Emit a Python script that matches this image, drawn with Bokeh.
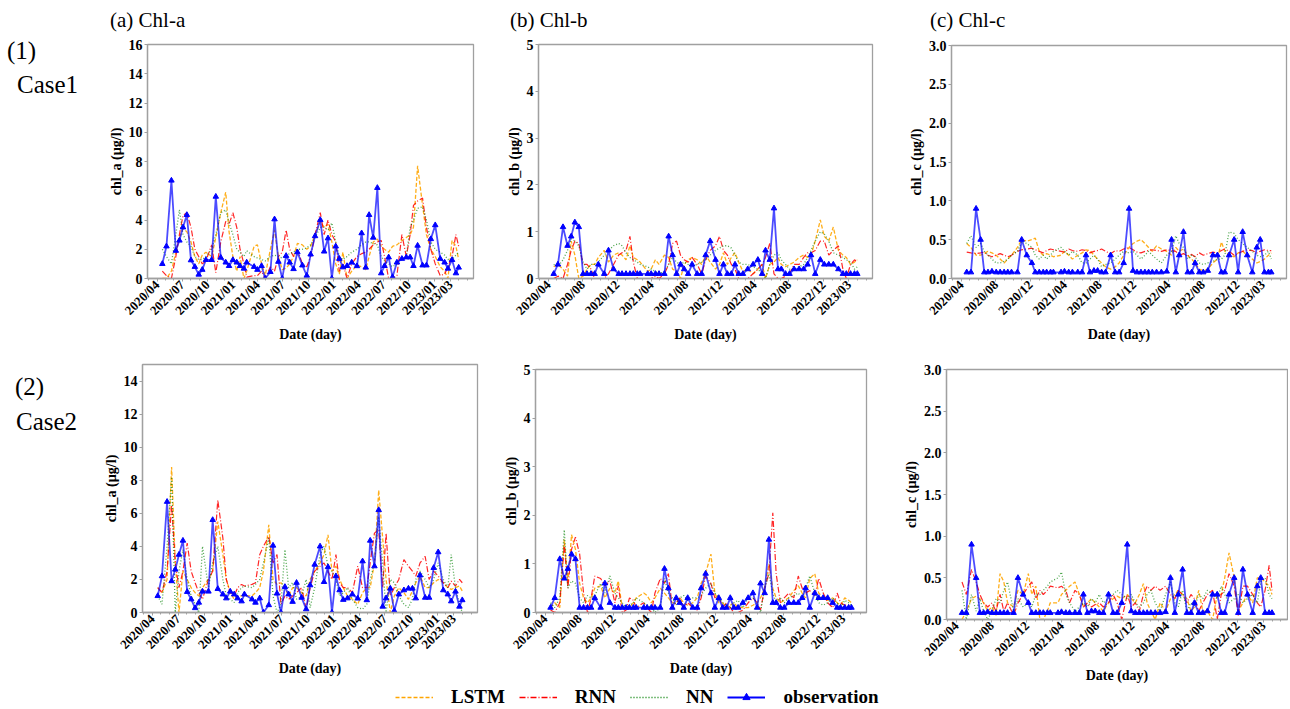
import math
import pandas as pd
from bokeh.plotting import figure
from bokeh.models import (Range1d, FixedTicker, NumeralTickFormatter, DatetimeTickFormatter,
                          Div, Spacer, Legend, LegendItem, ColumnDataSource)
from bokeh.layouts import row, column
from bokeh.embed import file_html
from bokeh.resources import INLINE

# ---------------- data ----------------
START = "2020-04-20"
DAY_OFFSETS = [0, 15, 33, 49, 62, 75, 89, 104, 118, 132,
               145, 158, 179, 194, 212, 230, 242, 256, 270, 282,
               296, 306, 333, 345, 360, 373, 392, 407, 421, 435,
               449, 462, 476, 490, 508, 524, 538, 554, 573, 587,
               601, 615, 629, 642, 655, 670, 687, 706, 723, 738,
               750, 765, 780, 794, 806, 821, 835, 851, 869, 885,
               899, 911, 926, 944, 958, 974, 990, 1008, 1024, 1036,
               1051, 1065, 1075]

OBS_A = [1.0, 2.2, 6.7, 1.9, 2.6, 3.5, 4.35, 1.25, 0.8, 0.27,
         0.6, 1.27, 1.27, 5.6, 1.43, 1.1, 0.86, 1.27, 1.1, 0.86,
         0.68, 1.1, 0.8, 0.6, 0.86, 0.0, 0.45, 4.05, 1.15, 0.0,
         1.55, 1.1, 0.65, 1.8, 0.9, 0.2, 1.65, 2.9, 4.0, 1.85,
         2.75, 0.0, 2.2, 1.35, 0.77, 0.86, 1.1, 0.85, 3.1, 0.75,
         4.35, 2.8, 6.2, 0.36, 0.86, 1.45, 0.1, 1.1, 1.35, 1.45,
         1.45, 0.86, 2.25, 0.9, 0.9, 2.7, 3.65, 1.35, 1.1, 0.68,
         1.27, 0.36, 0.75]
OBS_B = [0.1, 0.3, 1.1, 0.7, 0.9, 1.2, 1.1, 0.1, 0.1, 0.1,
         0.1, 0.3, 0.1, 0.6, 0.2, 0.1, 0.1, 0.1, 0.1, 0.1,
         0.1, 0.1, 0.1, 0.1, 0.1, 0.1, 0.1, 0.9, 0.5, 0.1,
         0.3, 0.2, 0.1, 0.3, 0.1, 0.1, 0.5, 0.8, 0.4, 0.1,
         0.3, 0.1, 0.1, 0.3, 0.1, 0.1, 0.2, 0.3, 0.4, 0.1,
         0.6, 0.4, 1.5, 0.2, 0.2, 0.1, 0.1, 0.2, 0.2, 0.2,
         0.3, 0.5, 0.1, 0.4, 0.3, 0.3, 0.3, 0.2, 0.1, 0.1,
         0.1, 0.1, 0.1]
OBS_C = [0.08, 0.08, 0.9, 0.5, 0.08, 0.08, 0.09, 0.08, 0.08, 0.08,
         0.08, 0.08, 0.08, 0.5, 0.3, 0.2, 0.08, 0.08, 0.08, 0.08,
         0.08, 0.08, 0.08, 0.09, 0.08, 0.08, 0.08, 0.08, 0.3, 0.08,
         0.1, 0.1, 0.08, 0.08, 0.3, 0.08, 0.08, 0.2, 0.9, 0.1,
         0.08, 0.08, 0.08, 0.08, 0.08, 0.08, 0.08, 0.09, 0.5, 0.08,
         0.3, 0.6, 0.08, 0.08, 0.2, 0.08, 0.08, 0.1, 0.3, 0.3,
         0.08, 0.08, 0.3, 0.5, 0.08, 0.6, 0.3, 0.08, 0.4, 0.5,
         0.08, 0.08, 0.08]

# Case 1 predictions
C1_A_LSTM = [0.0, 0.0, 0.5, 1.8, 2.8, 3.4, 3.2, 2.5, 1.5, 1.0,
             1.6, 1.8, 1.5, 2.8, 4.5, 5.9, 3.2, 1.5, 0.5, 1.5,
             0.0, 0.5, 2.2, 2.3, 1.0, 0.2, 2.0, 3.3, 1.5, 0.6,
             0.7, 1.0, 1.5, 2.4, 2.3, 2.0, 2.2, 3.0, 3.9, 3.5,
             3.7, 2.5, 1.0, 0.3, 1.8, 0.0, 0.5, 0.9, 0.8, 0.6,
             1.5, 2.5, 2.7, 2.2, 2.0, 1.8, 2.2, 2.3, 2.6, 2.8,
             3.0, 3.5, 7.7, 5.0, 3.0, 2.0, 1.5, 0.8, 0.5, 0.0,
             2.6, 2.2, 1.3]
C1_A_RNN = [0.5, 0.2, 0.0, 1.5, 3.0, 4.3, 4.5, 3.5, 2.0, 1.5,
            1.0, 1.2, 2.3, 0.4, 2.5, 3.9, 3.7, 4.5, 3.5, 2.0,
            1.0, 0.1, 0.2, 0.2, 0.5, 0.0, 0.8, 0.5, 1.5, 1.8,
            3.3, 2.0, 1.5, 2.0, 1.0, 0.8, 1.5, 3.0, 4.5, 3.0,
            4.0, 3.0, 2.5, 0.5, 1.0, 0.0, 1.0, 1.5, 1.7, 1.8,
            2.0, 2.3, 2.5, 2.6, 1.5, 0.0, 0.0, 0.2, 3.0, 1.5,
            3.0, 5.0, 5.3, 5.5, 3.5, 2.0, 1.0, 0.2, 0.3, 0.8,
            1.5, 3.0, 2.2]
C1_A_NN = [2.0, 1.5, 1.0, 3.0, 4.7, 3.0, 2.5, 2.2, 1.5, 1.3,
           1.3, 1.5, 2.0, 3.0, 4.5, 4.7, 3.8, 3.0, 2.0, 1.8,
           1.5, 1.9, 1.5, 1.4, 1.3, 1.2, 1.5, 1.6, 1.5, 1.4,
           1.6, 1.7, 1.8, 2.0, 2.0, 2.1, 2.3, 2.8, 3.5, 3.5,
           3.3, 3.8, 2.5, 1.5, 1.3, 1.5, 1.8, 2.0, 2.3, 2.5,
           2.5, 2.4, 2.3, 1.5, 1.2, 1.0, 0.8, 1.0, 1.3, 1.5,
           3.5, 4.0, 4.8, 4.9, 4.0, 2.5, 2.0, 1.8, 1.6, 1.3,
           1.3, 1.6, 1.8]
C1_B_LSTM = [0.25, 0.3, 0.2, 0.05, 0.8, 0.5, 0.0, 0.05, 0.2, 0.3,
             0.3, 0.45, 0.6, 0.35, 0.5, 0.55, 0.5, 0.4, 0.7, 0.45,
             0.4, 0.35, 0.15, 0.2, 0.4, 0.3, 0.5, 0.45, 0.2, 0.15,
             0.0, 0.3, 0.4, 0.45, 0.4, 0.3, 0.5, 0.35, 0.2, 0.3,
             0.55, 0.3, 0.45, 0.55, 0.35, 0.15, 0.2, 0.1, 0.2, 0.3,
             0.0, 0.3, 0.35, 0.45, 0.3, 0.25, 0.3, 0.35, 0.45, 0.5,
             0.45, 0.5, 0.8, 1.25, 0.9, 0.8, 1.1, 0.6, 0.5, 0.45,
             0.3, 0.35, 0.4]
C1_B_RNN = [0.0, 0.05, 0.0, 0.3, 0.6, 0.8, 0.75, 0.3, 0.3, 0.2,
            0.0, 0.0, 0.0, 0.1, 0.3, 0.5, 0.55, 0.6, 0.9, 0.35,
            0.0, 0.0, 0.0, 0.0, 0.05, 0.0, 0.1, 0.3, 0.75, 0.8,
            0.5, 0.4, 0.35, 0.45, 0.3, 0.1, 0.4, 0.6, 0.7, 0.9,
            0.6, 0.5, 0.3, 0.2, 0.0, 0.0, 0.0, 0.1, 0.2, 0.3,
            0.45, 0.75, 0.1, 0.0, 0.0, 0.05, 0.1, 0.3, 0.3, 0.45,
            0.55, 0.55, 0.6, 0.8, 0.8, 0.5, 0.6, 0.7, 0.2, 0.0,
            0.3, 0.4, 0.35]
C1_B_NN = [0.3, 0.25, 0.4, 0.6, 0.85, 0.8, 0.7, 0.35, 0.2, 0.3,
           0.3, 0.35, 0.5, 0.6, 0.7, 0.75, 0.7, 0.55, 0.45, 0.4,
           0.35, 0.3, 0.25, 0.2, 0.15, 0.1, 0.15, 0.3, 0.45, 0.35,
           0.3, 0.35, 0.3, 0.25, 0.3, 0.35, 0.4, 0.5, 0.6, 0.65,
           0.7, 0.7, 0.65, 0.5, 0.35, 0.3, 0.3, 0.25, 0.2, 0.1,
           0.0, 0.3, 0.5, 0.55, 0.4, 0.3, 0.2, 0.2, 0.25, 0.3,
           0.45, 0.6, 0.8, 1.0, 0.95, 0.8, 0.55, 0.5, 0.45, 0.4,
           0.35, 0.2, 0.25]
C1_C_LSTM = [0.45, 0.4, 0.3, 0.3, 0.32, 0.35, 0.33, 0.3, 0.25, 0.2,
             0.25, 0.3, 0.4, 0.5, 0.48, 0.5, 0.52, 0.35, 0.3, 0.32,
             0.3, 0.28, 0.3, 0.35, 0.3, 0.25, 0.3, 0.33, 0.37, 0.36,
             0.3, 0.25, 0.2, 0.15, 0.12, 0.15, 0.2, 0.3, 0.4, 0.45,
             0.48, 0.5, 0.45, 0.4, 0.35, 0.42, 0.38, 0.35, 0.3, 0.4,
             0.35, 0.38, 0.3, 0.25, 0.2, 0.12, 0.1, 0.12, 0.2, 0.25,
             0.47, 0.35, 0.3, 0.28, 0.33, 0.35, 0.3, 0.25, 0.2, 0.22,
             0.25, 0.3, 0.33]
C1_C_RNN = [0.34, 0.33, 0.32, 0.33, 0.34, 0.3, 0.28, 0.3, 0.32, 0.3,
            0.28, 0.3, 0.35, 0.37, 0.38, 0.39, 0.37, 0.35, 0.33, 0.36,
            0.38, 0.37, 0.35, 0.34, 0.38, 0.36, 0.35, 0.37, 0.36, 0.33,
            0.35, 0.36, 0.38, 0.35, 0.32, 0.36, 0.35, 0.38, 0.4, 0.37,
            0.34, 0.33, 0.35, 0.36, 0.37, 0.36, 0.35, 0.37, 0.36, 0.35,
            0.3, 0.32, 0.29, 0.31, 0.28, 0.33, 0.3, 0.32, 0.34, 0.33,
            0.36, 0.38, 0.35, 0.3, 0.32, 0.35, 0.37, 0.36, 0.33, 0.35,
            0.37, 0.36, 0.36]
C1_C_NN = [0.45, 0.55, 0.4, 0.45, 0.35, 0.3, 0.25, 0.2, 0.2, 0.22,
           0.25, 0.3, 0.35, 0.48, 0.45, 0.4, 0.3, 0.25, 0.3, 0.25,
           0.3, 0.35, 0.4, 0.35, 0.3, 0.35, 0.3, 0.2, 0.2, 0.25,
           0.3, 0.25, 0.15, 0.18, 0.2, 0.25, 0.3, 0.35, 0.33, 0.35,
           0.3, 0.25, 0.3, 0.35, 0.3, 0.25, 0.2, 0.3, 0.35, 0.55,
           0.45, 0.4, 0.25, 0.3, 0.28, 0.2, 0.18, 0.2, 0.22, 0.25,
           0.25, 0.3, 0.6, 0.58, 0.5, 0.45, 0.4, 0.35, 0.3, 0.28,
           0.3, 0.35, 0.25]

# Case 2 predictions
C2_A_LSTM = [1.5, 1.2, 2.0, 8.8, 3.0, 0.0, 2.5, 2.0, 1.5, 1.2,
             1.0, 1.5, 2.0, 2.5, 5.5, 3.5, 2.0, 1.2, 0.8, 1.0,
             1.0, 1.0, 1.0, 1.2, 1.5, 2.5, 5.3, 2.0, 1.7, 1.8,
             1.5, 1.0, 1.5, 1.5, 1.2, 1.0, 2.0, 2.5, 3.0, 3.5,
             4.7, 2.5, 2.8, 2.0, 1.5, 1.0, 0.8, 0.5, 1.2, 1.5,
             1.5, 3.0, 7.4, 4.5, 2.0, 0.0, 1.0, 1.5, 1.2, 0.8,
             1.3, 1.8, 2.2, 1.5, 1.5, 1.8, 2.0, 1.8, 1.5, 1.4,
             1.5, 1.6, 1.3]
C2_A_RNN = [1.5, 1.2, 2.5, 6.5, 3.0, 1.5, 2.5, 4.2, 2.5, 1.8,
            1.2, 0.8, 2.0, 2.5, 6.8, 4.5, 2.0, 1.2, 1.0, 1.5,
            1.7, 1.6, 1.7, 1.8, 3.5, 4.0, 4.6, 3.0, 3.5, 0.5,
            1.0, 0.8, 1.0, 1.2, 1.5, 0.2, 1.5, 2.5, 2.8, 3.0,
            2.5, 2.0, 3.5, 1.8, 1.5, 1.5, 1.2, 2.8, 1.5, 1.5,
            3.0, 4.8, 5.0, 1.5, 4.8, 1.0, 1.5, 2.0, 3.2, 2.8,
            2.5, 2.2, 3.0, 3.4, 2.0, 2.5, 2.2, 1.8, 1.5, 1.9,
            1.6, 2.0, 1.8]
C2_A_NN = [1.0, 0.5, 4.0, 8.2, 0.0, 2.5, 3.8, 2.0, 1.0, 0.5,
           0.0, 4.0, 1.5, 3.0, 4.0, 2.0, 1.0, 0.8, 0.6, 1.2,
           1.5, 1.6, 1.5, 1.7, 2.0, 3.0, 4.5, 1.0, 0.0, 0.5,
           3.8, 1.5, 1.8, 0.8, 1.0, 2.0, 0.3, 1.5, 3.5, 4.0,
           2.8, 2.5, 2.0, 1.0, 1.2, 1.5, 0.8, 0.3, 0.2, 0.5,
           2.0, 3.0, 5.8, 3.0, 0.0, 2.0, 1.8, 1.0, 0.5, 0.3,
           0.8, 2.0, 2.5, 2.0, 1.5, 2.0, 3.0, 2.0, 1.5, 3.5,
           1.5, 0.5, 0.0]
C2_B_LSTM = [0.1, 0.2, 0.1, 1.5, 0.6, 1.6, 1.3, 0.6, 0.3, 0.2,
             0.3, 0.5, 0.55, 0.3, 0.5, 0.4, 0.65, 0.1, 0.1, 0.1,
             0.2, 0.3, 0.4, 0.35, 0.2, 0.3, 0.5, 0.4, 0.3, 0.2,
             0.2, 0.3, 0.2, 0.15, 0.2, 0.3, 0.6, 0.8, 1.2, 0.4,
             0.2, 0.2, 0.1, 0.15, 0.2, 0.1, 0.1, 0.1, 0.15, 0.2,
             0.3, 0.5, 1.0, 0.5, 0.3, 0.2, 0.25, 0.3, 0.45, 0.55,
             0.4, 0.3, 0.7, 0.8, 0.4, 0.3, 0.25, 0.3, 0.2, 0.15,
             0.3, 0.25, 0.2]
C2_B_RNN = [0.05, 0.0, 0.2, 1.4, 0.5, 1.3, 1.55, 1.2, 0.4, 0.0,
            0.3, 0.75, 0.7, 0.55, 0.65, 0.2, 0.55, 0.0, 0.05, 0.3,
            0.25, 0.1, 0.2, 0.1, 0.0, 0.4, 0.7, 0.6, 0.8, 0.1,
            0.2, 0.3, 0.1, 0.2, 0.1, 0.05, 0.3, 0.75, 0.6, 0.3,
            0.35, 0.1, 0.2, 0.1, 0.0, 0.0, 0.05, 0.2, 0.3, 0.2,
            0.05, 0.5, 0.8, 2.05, 0.8, 0.2, 0.3, 0.4, 0.3, 0.75,
            0.5, 0.4, 0.45, 0.35, 0.7, 0.4, 0.2, 0.1, 0.4, 0.2,
            0.15, 0.15, 0.1]
C2_B_NN = [0.2, 0.1, 0.3, 1.7, 0.5, 0.65, 0.6, 0.3, 0.2, 0.35,
           0.3, 0.35, 0.6, 0.4, 0.75, 0.4, 0.3, 0.2, 0.1, 0.15,
           0.2, 0.3, 0.2, 0.15, 0.1, 0.0, 0.1, 0.7, 0.4, 0.3,
           0.15, 0.3, 0.35, 0.25, 0.3, 0.3, 0.35, 0.5, 0.6, 0.4,
           0.3, 0.2, 0.15, 0.1, 0.2, 0.25, 0.1, 0.3, 0.3, 0.2,
           0.0, 0.5, 0.8, 0.4, 0.2, 0.3, 0.2, 0.3, 0.35, 0.4,
           0.3, 0.5, 0.75, 0.4, 0.2, 0.15, 0.2, 0.3, 0.2, 0.1,
           0.25, 0.2, 0.15]
C2_C_LSTM = [0.0, 0.1, 0.25, 0.28, 0.25, 0.2, 0.1, 0.15, 0.05, 0.55,
             0.45, 0.2, 0.15, 0.35, 0.3, 0.55, 0.3, 0.4, 0.0, 0.0,
             0.1, 0.2, 0.2, 0.3, 0.35, 0.4, 0.45, 0.3, 0.15, 0.2,
             0.25, 0.2, 0.15, 0.1, 0.2, 0.25, 0.28, 0.25, 0.3, 0.25,
             0.2, 0.3, 0.43, 0.2, 0.1, 0.0, 0.2, 0.1, 0.25, 0.3,
             0.35, 0.3, 0.25, 0.1, 0.15, 0.35, 0.1, 0.1, 0.0, 0.3,
             0.3, 0.5, 0.8, 0.5, 0.1, 0.2, 0.3, 0.2, 0.5, 0.5,
             0.45, 0.4, 0.3]
C2_C_RNN = [0.45, 0.3, 0.6, 0.45, 0.3, 0.2, 0.15, 0.2, 0.1, 0.3,
            0.1, 0.2, 0.05, 0.2, 0.3, 0.4, 0.45, 0.25, 0.35, 0.3,
            0.35, 0.4, 0.38, 0.4, 0.35, 0.2, 0.35, 0.3, 0.15, 0.2,
            0.15, 0.18, 0.2, 0.15, 0.2, 0.3, 0.2, 0.0, 0.3, 0.15,
            0.2, 0.1, 0.3, 0.4, 0.35, 0.4, 0.35, 0.4, 0.3, 0.25,
            0.35, 0.3, 0.2, 0.3, 0.25, 0.1, 0.2, 0.3, 0.35, 0.0,
            0.3, 0.35, 0.55, 0.4, 0.05, 0.4, 0.4, 0.3, 0.2, 0.15,
            0.35, 0.65, 0.35]
C2_C_NN = [0.35, 0.0, 0.3, 0.1, 0.25, 0.1, 0.0, 0.1, 0.25, 0.2,
           0.35, 0.45, 0.1, 0.25, 0.15, 0.2, 0.15, 0.3, 0.3, 0.35,
           0.4, 0.45, 0.5, 0.57, 0.3, 0.2, 0.1, 0.15, 0.2, 0.15,
           0.25, 0.2, 0.3, 0.2, 0.25, 0.3, 0.35, 0.3, 0.25, 0.3,
           0.2, 0.15, 0.2, 0.3, 0.35, 0.2, 0.1, 0.3, 0.45, 0.2,
           0.15, 0.35, 0.1, 0.2, 0.15, 0.3, 0.25, 0.35, 0.3, 0.25,
           0.4, 0.3, 0.2, 0.25, 0.3, 0.2, 0.25, 0.3, 0.2, 0.45,
           0.5, 0.3, 0.25]

XTICKS_A = ["2020-04", "2020-07", "2020-10", "2021-01", "2021-04", "2021-07", "2021-10",
            "2022-01", "2022-04", "2022-07", "2022-10", "2023-01", "2023-03"]
XTICKS_BC = ["2020-04", "2020-08", "2020-12", "2021-04", "2021-08", "2021-12",
             "2022-04", "2022-08", "2022-12", "2023-03"]
YTICKS_A1 = [0, 2, 4, 6, 8, 10, 12, 14, 16]
YTICKS_A2 = [0, 2, 4, 6, 8, 10, 12, 14]
YTICKS_B = [0, 1, 2, 3, 4, 5]
YTICKS_C = [0.0, 0.5, 1.0, 1.5, 2.0, 2.5, 3.0]
SERIES_NAMES = ["LSTM", "RNN", "NN", "observation"]
PANEL_TITLES = ["(a) Chl-a", "(b) Chl-b", "(c) Chl-c"]
CASE_LABELS = [("(1)", "Case1"), ("(2)", "Case2")]

# ---------------- styling ----------------
SERIF = "Liberation Serif"
GRAY = "#a0a0a0"
STY = {
    "LSTM": dict(line_color="#ffa500", line_dash="4 2", line_width=1.3, line_alpha=0.9),
    "RNN": dict(line_color="#ff0000", line_dash="6 2 1 2", line_width=1.2, line_alpha=0.85),
    "NN": dict(line_color="#008000", line_dash="1 2", line_width=1.3, line_alpha=0.7),
}

dates = pd.Timestamp(START) + pd.to_timedelta(DAY_OFFSETS, unit="D")
span = dates.max() - dates.min()
X0 = (dates.min() - span * 0.05).to_pydatetime()
X1 = (dates.max() + span * 0.05).to_pydatetime()


def ms(s):
    return pd.Timestamp(s).value / 1e6


MINOR = [ms(d) for d in pd.date_range("2020-03-01", "2023-06-01", freq="MS")]


def panel(w, h, borders, ylabel, ymax, yticks, xticks, obs, lstm, rnn, nn, yfmt=None):
    l, r, t, b = borders
    p = figure(width=w, height=h, x_axis_type="datetime", output_backend="svg",
               toolbar_location=None, title=None,
               x_range=Range1d(X0, X1), y_range=Range1d(0, ymax),
               min_border_left=l, min_border_right=r, min_border_top=t, min_border_bottom=b,
               margin=0)
    p.grid.visible = False
    p.outline_line_color = GRAY
    p.outline_line_width = 1.3
    tick_ms = [ms(s) for s in xticks]
    p.xaxis.ticker = FixedTicker(ticks=tick_ms, minor_ticks=MINOR)
    p.xaxis.formatter = DatetimeTickFormatter(days="%Y/%m", months="%Y/%m", years="%Y/%m")
    p.xaxis.major_label_overrides = {v: s.replace("-", "/") for v, s in zip(tick_ms, xticks)}
    p.xaxis.major_label_orientation = math.pi / 4
    p.yaxis.ticker = FixedTicker(ticks=yticks)
    if yfmt:
        p.yaxis.formatter = NumeralTickFormatter(format=yfmt)
    p.xaxis.axis_label = "Date (day)"
    p.yaxis.axis_label = ylabel
    for ax in (p.xaxis[0], p.yaxis[0]):
        ax.major_label_text_font = SERIF
        ax.major_label_text_font_style = "bold"
        ax.major_label_text_color = "black"
        ax.axis_label_text_font = SERIF
        ax.axis_label_text_font_style = "bold"
        ax.axis_label_text_font_size = "14px"
        ax.axis_label_text_color = "black"
        ax.axis_line_color = GRAY
        ax.axis_line_width = 1.3
        ax.major_tick_line_color = GRAY
        ax.major_tick_out = 3
        ax.major_tick_in = 0
        ax.major_label_standoff = 2
        ax.axis_label_standoff = 2
    p.xaxis.major_label_standoff = 1
    p.xaxis.axis_label_standoff = 1
    p.xaxis.major_label_text_font_size = "13px"
    p.yaxis.major_label_text_font_size = "14px"
    p.xaxis.minor_tick_line_color = GRAY
    p.xaxis.minor_tick_out = 2
    p.xaxis.minor_tick_in = 0
    p.yaxis.minor_tick_line_color = None

    src = ColumnDataSource(dict(x=dates, obs=obs, LSTM=lstm, RNN=rnn, NN=nn))
    for name in SERIES_NAMES[:3]:
        p.line("x", name, source=src, **STY[name])
    p.line("x", "obs", source=src, line_color="blue", line_width=1.8, line_alpha=0.7)
    p.scatter("x", "obs", source=src, marker="triangle", size=5.5, color="blue")
    # wrap so the row does not align frames across panels
    return column(p, margin=0)


def case_div(labels, lh1, lh2, top, left1, left2, h):
    first, second = labels
    html = (f'<div style="font-family:\'{SERIF}\';font-size:25px;color:black;'
            f'margin-top:{top}px;white-space:nowrap">'
            f'<div style="padding-left:{left1}px;line-height:{lh1}px">{first}</div>'
            f'<div style="padding-left:{left2}px;line-height:{lh2}px">{second}</div></div>')
    return Div(text=html, width=100, height=h, margin=0)


# panel titles strip (HTML text, positioned over each panel)
title_spans = "".join(
    f'<span style="position:absolute;left:{x}px;top:8px;line-height:24px">{t}</span>'
    for x, t in zip([110, 510, 930], PANEL_TITLES))
titles = Div(text=(f'<div style="position:relative;width:1288px;height:36px;'
                   f'font-family:\'{SERIF}\';font-size:21px;color:black;white-space:nowrap">'
                   f'{title_spans}</div>'), width=1288, height=36, margin=0)

H1, H2 = 309, 341
pa1 = panel(400, H1, (47, 27, 8, 66), "chl_a (µg/l)", 16, YTICKS_A1, XTICKS_A,
            OBS_A, C1_A_LSTM, C1_A_RNN, C1_A_NN)
pb1 = panel(400, H1, (38, 28, 8, 66), "chl_b (µg/l)", 5, YTICKS_B, XTICKS_BC,
            OBS_B, C1_B_LSTM, C1_B_RNN, C1_B_NN)
pc1 = panel(388, H1, (51, 2, 9, 65), "chl_c (µg/l)", 3, YTICKS_C, XTICKS_BC,
            OBS_C, C1_C_LSTM, C1_C_RNN, C1_C_NN, yfmt="0.0")

pa2 = panel(400, H2, (41, 23, 19, 74), "chl_a (µg/l)", 15, YTICKS_A2, XTICKS_A,
            OBS_A, C2_A_LSTM, C2_A_RNN, C2_A_NN)
pb2 = panel(400, H2, (35, 34, 24, 74), "chl_b (µg/l)", 5, YTICKS_B, XTICKS_BC,
            OBS_B, C2_B_LSTM, C2_B_RNN, C2_B_NN)
pc2 = panel(388, H2, (46, 1, 24, 67), "chl_c (µg/l)", 3, YTICKS_C, XTICKS_BC,
            OBS_C, C2_C_LSTM, C2_C_RNN, C2_C_NN, yfmt="0.0")

d1 = case_div(CASE_LABELS[0], 30, 38, 0, 7, 17, H1)
d2 = case_div(CASE_LABELS[1], 35, 35, 24, 15, 16, H2)

# legend strip: renderers carry real data but sit outside this strip's view
leg = figure(width=560, height=22, output_backend="svg", toolbar_location=None,
             x_range=Range1d(0, 1), y_range=Range1d(0, 1), min_border=0, margin=0)
leg.axis.visible = False
leg.grid.visible = False
leg.outline_line_color = None
lsrc = ColumnDataSource(dict(x=dates, obs=OBS_A, LSTM=C1_A_LSTM, RNN=C1_A_RNN, NN=C1_A_NN))
items = []
for name in SERIES_NAMES[:3]:
    sty = dict(STY[name], line_width=1.5, line_alpha=1.0)
    r = leg.line("x", name, source=lsrc, **sty)
    items.append(LegendItem(label=name, renderers=[r]))
r4 = leg.line("x", "obs", source=lsrc, line_color="blue", line_width=1.8)
r5 = leg.scatter("x", "obs", source=lsrc, marker="triangle", size=7, color="blue")
items.append(LegendItem(label=SERIES_NAMES[3], renderers=[r4, r5]))
legend = Legend(items=items, orientation="horizontal", location="center_left", padding=0, margin=0,
                spacing=14, glyph_width=38, glyph_height=18, label_height=18,
                label_standoff=18, border_line_color=None, background_fill_alpha=0,
                label_text_font=SERIF, label_text_font_style="bold",
                label_text_font_size="19px", label_text_color="black")
leg.add_layout(legend)

layout = column(
    titles,
    row(d1, pa1, pb1, pc1, margin=0),
    row(d2, pa2, pb2, pc2, margin=0),
    row(Spacer(width=395, height=22, margin=0), leg, margin=0),
    margin=0,
)

open("out.html", "w").write(file_html(layout, INLINE))
